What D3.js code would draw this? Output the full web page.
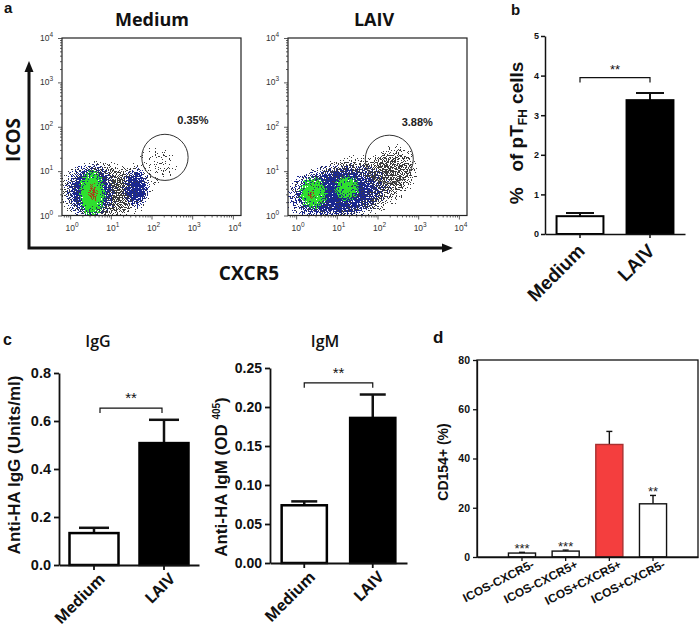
<!DOCTYPE html>
<html><head><meta charset="utf-8">
<script src="https://cdn.jsdelivr.net/npm/d3@7"></script>
<style>body{margin:0;background:#fff} svg{display:block}</style>
</head><body>
<svg id="c" width="700" height="633"></svg>
<script>
// ================= DATA =================
// Panel a: flow cytometry (log10 units)
const flowSamples = ["Medium", "LAIV"];
const gatePercents = ["0.35%", "3.88%"];
const flowDecades = [1, 10, 100, 1000, 10000];
// populations: [density kind, cx, cy, rx, ry, rotation, peak]  (log10 decades)
const mediumPops = [
  ["gray", 0.85, 0.55, 1.40, 0.82, 0, 1],
  ["gray", 2.15, 1.15, 0.75, 0.65, 0, 0.42],
  ["blue", 0.50, 0.55, 0.68, 0.66, 0, 1],
  ["blue", 1.62, 0.62, 0.36, 0.48, 0, 1],
  ["green", 0.54, 0.50, 0.34, 0.54, 0, 1],
  ["red", 0.56, 0.52, 0.15, 0.24, 0, 0.95]
];
const laivPops = [
  ["gray", 1.35, 0.62, 1.85, 0.85, -12, 1],
  ["gray", 2.45, 1.12, 0.62, 0.62, 0, 0.74],
  ["blue", 1.00, 0.52, 1.36, 0.66, -8, 1],
  ["green", 0.42, 0.50, 0.36, 0.38, 0, 0.82],
  ["green", 1.25, 0.62, 0.32, 0.30, 0, 0.78],
  ["red", 0.38, 0.45, 0.11, 0.14, 0, 0.75]
];
// gate ellipses [cx, cy, rx, ry] in log10 decades
const gates = [[2.33, 1.31, 0.57, 0.52], [2.29, 1.27, 0.59, 0.54]];

// Panel b
const bCategories = ["Medium", "LAIV"];
const bValues = [0.45, 3.38];
const bErrTops = [0.53, 3.56];
const bTicks = [0, 1, 2, 3, 4, 5];
const bBracket = 3.95;

// Panel c
const cCategories = ["Medium", "LAIV"];
const igGValues = [0.133, 0.508];
const igGErrTops = [0.155, 0.605];
const igGTicks = [0, 0.2, 0.4, 0.6, 0.8];
const igGBracket = 0.654;
const igMValues = [0.074, 0.186];
const igMErrTops = [0.079, 0.216];
const igMTicks = [0, 0.05, 0.10, 0.15, 0.20, 0.25];
const igMBracket = 0.231;

// Panel d
const dCategories = ["ICOS-CXCR5-", "ICOS-CXCR5+", "ICOS+CXCR5+", "ICOS+CXCR5-"];
const dValues = [1.6, 2.4, 45.7, 21.6];
const dErrTops = [1.9, 2.8, 51.0, 25.0];
const dStars = ["***", "***", "", "**"];
const dTicks = [0, 20, 40, 60, 80];

// ================= DRAW =================
const SANS = "'Liberation Sans', Arial, sans-serif";
const OPEN = "'Open Sans', sans-serif";
const svg = d3.select("#c");
const defs = svg.append("defs");

// density gradient
const grad = defs.append("radialGradient").attr("id", "dens");
grad.append("stop").attr("offset", "0%").attr("stop-color", "#000").attr("stop-opacity", 1);
grad.append("stop").attr("offset", "55%").attr("stop-color", "#000").attr("stop-opacity", 0.75);
grad.append("stop").attr("offset", "100%").attr("stop-color", "#000").attr("stop-opacity", 0);

const kindStyle = {
  gray: {color: "#3c3c3c", seed: 7, k4: -0.76, freq: 0.85},
  blue: {color: "#1b2890", seed: 11, k4: -0.5, freq: 0.8},
  green: {color: "#2fe02f", seed: 19, k4: -0.27, freq: 0.75},
  red: {color: "#a8401c", seed: 23, k4: -0.68, freq: 0.9}
};
Object.entries(kindStyle).forEach(([k, s]) => {
  const f = defs.append("filter").attr("id", "sp-" + k)
    .attr("filterUnits", "userSpaceOnUse").attr("x", 0).attr("y", 0)
    .attr("width", 700).attr("height", 300)
    .attr("color-interpolation-filters", "sRGB");
  f.append("feTurbulence").attr("type", "fractalNoise").attr("baseFrequency", s.freq)
    .attr("numOctaves", 1).attr("seed", s.seed).attr("result", "noise");
  f.append("feColorMatrix").attr("in", "noise").attr("type", "matrix")
    .attr("values", "0 0 0 0 0  0 0 0 0 0  0 0 0 0 0  3 0 0 0 -1").attr("result", "na");
  f.append("feComposite").attr("in", "SourceAlpha").attr("in2", "na").attr("operator", "arithmetic")
    .attr("k1", 0).attr("k2", 1).attr("k3", 1).attr("k4", s.k4).attr("result", "m");
  const ct = f.append("feComponentTransfer").attr("in", "m").attr("result", "mask");
  ct.append("feFuncA").attr("type", "discrete").attr("tableValues", "0 1");
  f.append("feComposite").attr("in", "mask").attr("in2", "SourceAlpha").attr("operator", "in").attr("result", "mm");
  const ct2 = f.append("feComponentTransfer").attr("in", "mm").attr("result", "mm2");
  ct2.append("feFuncA").attr("type", "linear").attr("slope", 40).attr("intercept", 0);
  f.append("feFlood").attr("flood-color", s.color).attr("result", "fl");
  f.append("feComposite").attr("in", "fl").attr("in2", "mm2").attr("operator", "in");
});

function flowPanel(i, x0, pops, gate, pct) {
  const W = 179, y0 = 38, y1 = 215.5;
  const x = d3.scaleLog().domain([10 ** -0.2, 10 ** 4.2]).range([x0, x0 + W]);
  const y = d3.scaleLog().domain([1, 1e4]).range([y1, y0]);
  const pdx = x(10) - x(1), pdy = y(1) - y(10);
  const g = svg.append("g");
  const clipId = "clip" + i;
  defs.append("clipPath").attr("id", clipId).append("rect")
    .attr("x", x0).attr("y", y0).attr("width", W).attr("height", y1 - y0);
  const pg = g.append("g").attr("clip-path", `url(#${clipId})`);
  ["gray", "blue", "green", "red"].forEach(k => {
    const kg = pg.append("g").attr("filter", `url(#sp-${k})`);
    kg.selectAll("ellipse").data(pops.filter(p => p[0] === k)).join("ellipse")
      .attr("cx", p => x(10 ** p[1])).attr("cy", p => y(10 ** p[2]))
      .attr("rx", p => p[3] * pdx).attr("ry", p => p[4] * pdy)
      .attr("transform", p => `rotate(${p[5]},${x(10 ** p[1])},${y(10 ** p[2])})`)
      .attr("fill", "url(#dens)").attr("fill-opacity", p => p[6]);
  });
  // gate
  g.append("ellipse").attr("cx", x(10 ** gate[0])).attr("cy", y(10 ** gate[1]))
    .attr("rx", gate[2] * pdx).attr("ry", gate[3] * pdy)
    .attr("fill", "none").attr("stroke", "#333").attr("stroke-width", 1);
  g.append("text").attr("x", x(10 ** gate[0]) + 28).attr("y", y(10 ** gate[1]) - 33)
    .attr("text-anchor", "middle").attr("font-family", SANS).attr("font-weight", "bold")
    .attr("font-size", 11).attr("fill", "#222").text(pct);
  // box
  g.append("rect").attr("x", x0).attr("y", y0).attr("width", W).attr("height", y1 - y0)
    .attr("fill", "none").attr("stroke", "#222").attr("stroke-width", 1.2);
  // minor ticks
  const minorsX = [], minorsY = [];
  for (let d = -1; d < 5; d++) for (let m = 2; m < 10; m++) {
    const v = m * 10 ** d;
    if (v >= 10 ** -0.2 && v <= 10 ** 4.2) minorsX.push(v);
    if (v >= 1 && v <= 1e4) minorsY.push(v);
  }
  const axStyle = sel => { sel.select(".domain").remove(); sel.selectAll("line").attr("stroke", "#333").attr("stroke-width", 0.8); };
  g.append("g").attr("transform", `translate(${x0},0)`)
    .call(d3.axisLeft(y).tickValues(minorsY).tickSize(2).tickFormat("")).call(axStyle);
  g.append("g").attr("transform", `translate(${x0},0)`)
    .call(d3.axisLeft(y).tickValues(flowDecades).tickSize(4).tickFormat("")).call(axStyle);
  g.append("g").attr("transform", `translate(0,${y1})`)
    .call(d3.axisBottom(x).tickValues(minorsX).tickSize(2).tickFormat("")).call(axStyle);
  g.append("g").attr("transform", `translate(0,${y1})`)
    .call(d3.axisBottom(x).tickValues(flowDecades).tickSize(4).tickFormat("")).call(axStyle);
  flowDecades.forEach((v, j) => {
    const ty = g.append("text").attr("x", x0 - 9).attr("y", y(v) + 3)
      .attr("text-anchor", "end").attr("font-family", SANS).attr("font-size", 8.5).attr("fill", "#333");
    ty.append("tspan").text("10");
    ty.append("tspan").attr("dy", -4).attr("font-size", 6.5).text(j);
    const tx = g.append("text").attr("x", x(v) + 2).attr("y", y1 + 15)
      .attr("text-anchor", "middle").attr("font-family", SANS).attr("font-size", 8.5).attr("fill", "#333");
    tx.append("tspan").text("10");
    tx.append("tspan").attr("dy", -4).attr("font-size", 6.5).text(j);
  });
}
flowPanel(0, 62, mediumPops, gates[0], gatePercents[0]);
flowPanel(1, 288, laivPops, gates[1], gatePercents[1]);

// flow titles
[[152, flowSamples[0]], [374, flowSamples[1]]].forEach(([cx, t]) =>
  svg.append("text").attr("x", cx).attr("y", 26).attr("text-anchor", "middle")
    .attr("font-family", OPEN).attr("font-weight", 700).attr("font-size", 18).attr("fill", "#111").text(t));
// big axes arrows
svg.append("path").attr("d", "M29,249 V70 M27.5,248 H444").attr("stroke", "#111").attr("stroke-width", 3).attr("fill", "none");
svg.append("path").attr("d", "M29,61 L24.5,72 L33.5,72 Z").attr("fill", "#111");
svg.append("path").attr("d", "M453,248 L442,243.5 L442,252.5 Z").attr("fill", "#111");
svg.append("text").attr("transform", "translate(20,140) rotate(-90)").attr("text-anchor", "middle")
  .attr("font-family", OPEN).attr("font-weight", 700).attr("font-size", 19).attr("fill", "#111").text("ICOS");
svg.append("text").attr("x", 249).attr("y", 280).attr("text-anchor", "middle")
  .attr("font-family", OPEN).attr("font-weight", 700).attr("font-size", 19).attr("fill", "#111").text("CXCR5");

// panel letters
[["a", 4, 13, 15], ["b", 511, 15, 15], ["c", 3, 345, 16], ["d", 433, 343, 17]].forEach(([t, x, y, s]) =>
  svg.append("text").attr("x", x).attr("y", y).attr("font-family", SANS).attr("font-weight", "bold")
    .attr("font-size", s).attr("fill", "#111").text(t));

// ---------- generic bar chart ----------
function barChart(o) {
  const g = svg.append("g");
  const xs = d3.scaleBand().domain(o.cats).range([o.left, o.right]).paddingInner(o.pi).paddingOuter(o.po);
  const ys = d3.scaleLinear().domain([0, o.ymax]).range([o.bottom, o.top]);
  // error bars
  g.selectAll("line.err").data(o.cats).join("line").attr("class", "err")
    .attr("x1", c => xs(c) + xs.bandwidth() / 2).attr("x2", c => xs(c) + xs.bandwidth() / 2)
    .attr("y1", (c, i) => ys(o.vals[i])).attr("y2", (c, i) => ys(o.errs[i]))
    .attr("stroke", "#111").attr("stroke-width", o.ew);
  g.selectAll("line.cap").data(o.cats).join("line").attr("class", "cap")
    .attr("x1", c => xs(c) + xs.bandwidth() / 2 - o.cap / 2).attr("x2", c => xs(c) + xs.bandwidth() / 2 + o.cap / 2)
    .attr("y1", (c, i) => ys(o.errs[i])).attr("y2", (c, i) => ys(o.errs[i]))
    .attr("stroke", "#111").attr("stroke-width", o.ew);
  // bars
  g.selectAll("rect.bar").data(o.cats).join("rect").attr("class", "bar")
    .attr("x", c => xs(c)).attr("width", xs.bandwidth())
    .attr("y", (c, i) => ys(o.vals[i])).attr("height", (c, i) => o.bottom - ys(o.vals[i]))
    .attr("fill", (c, i) => o.fills[i]).attr("stroke", (c, i) => o.strokes[i]).attr("stroke-width", o.bw);
  // axes
  const ya = g.append("g").attr("transform", `translate(${o.left},0)`)
    .call(d3.axisLeft(ys).tickValues(o.ticks).tickFormat(o.fmt).tickSize(o.tick).tickSizeOuter(0).tickPadding(o.tpad));
  const xa = g.append("g").attr("transform", `translate(0,${o.bottom})`)
    .call(d3.axisBottom(xs).tickSize(o.tick).tickSizeOuter(0).tickFormat(""));
  [ya, xa].forEach(a => { a.selectAll("path,line").attr("stroke", "#111").attr("stroke-width", o.aw); });
  ya.selectAll("text").attr("font-family", SANS).attr("font-weight", "bold").attr("font-size", o.tfs).attr("fill", "#111");
  if (o.box) g.append("rect").attr("x", o.left).attr("y", o.top).attr("width", o.right - o.left)
    .attr("height", o.bottom - o.top).attr("fill", "none").attr("stroke", "#111").attr("stroke-width", o.aw);
  // x labels
  g.selectAll("text.xl").data(o.cats).join("text").attr("class", "xl")
    .attr("transform", c => `translate(${xs(c) + xs.bandwidth() / 2 + o.lx},${o.ly}) rotate(${o.rot})`)
    .attr("text-anchor", "end").attr("font-family", o.lfam).attr("font-weight", o.lw)
    .attr("font-size", o.lfs).attr("fill", "#111").text(c => c);
  // bracket
  if (o.bracket != null) {
    const xa1 = xs(o.cats[0]) + xs.bandwidth() / 2 + (o.bl || 0), xb = xs(o.cats[1]) + xs.bandwidth() / 2 + (o.br || 0), yb = ys(o.bracket);
    g.append("path").attr("d", `M${xa1},${yb + 5} V${yb} H${xb} V${yb + 5}`)
      .attr("fill", "none").attr("stroke", "#111").attr("stroke-width", 1.2);
    g.append("text").attr("x", (xa1 + xb) / 2).attr("y", yb - o.sdy).attr("text-anchor", "middle")
      .attr("font-family", SANS).attr("font-size", o.sfs).attr("fill", "#111").text("**");
  }
  if (o.stars) {
    g.selectAll("text.st").data(o.cats).join("text").attr("class", "st")
      .attr("x", c => xs(c) + xs.bandwidth() / 2).attr("y", (c, i) => ys(o.errs[i]) + 1)
      .attr("text-anchor", "middle").attr("font-family", SANS).attr("font-size", 13).attr("fill", "#222")
      .text((c, i) => o.stars[i]);
  }
  return {g, xs, ys};
}

// panel b
barChart({cats: bCategories, vals: bValues, errs: bErrTops, ticks: bTicks, fmt: d3.format("d"),
  left: 545, right: 685, top: 36, bottom: 234, ymax: 5, pi: 0.33, po: 0.165,
  fills: ["#fff", "#000"], strokes: ["#000", "#000"], bw: 2, ew: 2, cap: 28, aw: 1.5, tick: 4, tpad: 2, tfs: 9,
  lx: 6, ly: 252, rot: -45, lfam: SANS, lw: "bold", lfs: 19,
  bracket: bBracket, sdy: 4, sfs: 13});
{
  const t = svg.append("text").attr("transform", "translate(523,133) rotate(-90)").attr("text-anchor", "middle")
    .attr("font-family", SANS).attr("font-weight", "bold").attr("font-size", 19).attr("fill", "#111")
    .style("white-space", "pre");
  t.append("tspan").text("%   of pT");
  t.append("tspan").attr("font-size", 12).attr("dy", 4).text("FH");
  t.append("tspan").attr("dy", -4).text(" cells");
}

// panel c - IgG
barChart({cats: cCategories, vals: igGValues, errs: igGErrTops, ticks: igGTicks, fmt: d3.format(".1f"),
  left: 59, right: 199, top: 373, bottom: 565, ymax: 0.8, pi: 0.3, po: 0.15,
  fills: ["#fff", "#000"], strokes: ["#000", "#000"], bw: 2.5, ew: 2.5, cap: 30, aw: 1.8, tick: 5, tpad: 3, tfs: 14.5,
  lx: 12, ly: 580, rot: -45, lfam: OPEN, lw: 700, lfs: 15.5,
  bracket: igGBracket, bl: 6, br: -2, sdy: 5, sfs: 15});
// panel c - IgM
barChart({cats: cCategories, vals: igMValues, errs: igMErrTops, ticks: igMTicks, fmt: d3.format(".2f"),
  left: 270, right: 407, top: 368, bottom: 563, ymax: 0.25, pi: 0.34, po: 0.17,
  fills: ["#fff", "#000"], strokes: ["#000", "#000"], bw: 2.5, ew: 2.5, cap: 26, aw: 1.8, tick: 5, tpad: 3, tfs: 14,
  lx: 12, ly: 578, rot: -45, lfam: OPEN, lw: 700, lfs: 15.5,
  bracket: igMBracket, sdy: 5, sfs: 15});
[[98, "IgG"], [325, "IgM"]].forEach(([cx, t]) =>
  svg.append("text").attr("x", cx).attr("y", 347).attr("text-anchor", "middle")
    .attr("font-family", OPEN).attr("font-weight", 600).attr("font-size", 16).attr("fill", "#111").text(t));
svg.append("text").attr("transform", "translate(20,465) rotate(-90)").attr("text-anchor", "middle")
  .attr("font-family", SANS).attr("font-weight", "bold").attr("font-size", 17).attr("fill", "#111")
  .text("Anti-HA IgG (Units/ml)");
{
  const t = svg.append("text").attr("transform", "translate(227,477) rotate(-90)").attr("text-anchor", "middle")
    .attr("font-family", SANS).attr("font-weight", "bold").attr("font-size", 17).attr("fill", "#111")
    .style("white-space", "pre");
  t.append("tspan").text("Anti-HA IgM (OD ");
  t.append("tspan").attr("font-size", 10).attr("dy", -7).text("405");
  t.append("tspan").attr("dy", 7).text(")");
}

// panel d
barChart({cats: dCategories, vals: dValues, errs: dErrTops, ticks: dTicks, fmt: d3.format("d"),
  left: 477, right: 698, top: 360, bottom: 557, ymax: 80, pi: 0.38, po: 0.72,
  fills: ["#fff", "#fff", "#f43e3e", "#fff"], strokes: ["#111", "#111", "#a83030", "#111"], bw: 1.4, ew: 1.4, cap: 6,
  aw: 1.3, tick: 4, tpad: 3, tfs: 10.5,
  lx: 13, ly: 567, rot: -27, lfam: SANS, lw: "bold", lfs: 12,
  box: true, stars: dStars});
svg.append("text").attr("transform", "translate(448,462) rotate(-90)").attr("text-anchor", "middle")
  .attr("font-family", SANS).attr("font-weight", "bold").attr("font-size", 14).attr("fill", "#111")
  .text("CD154+ (%)");
</script>
</body></html>
